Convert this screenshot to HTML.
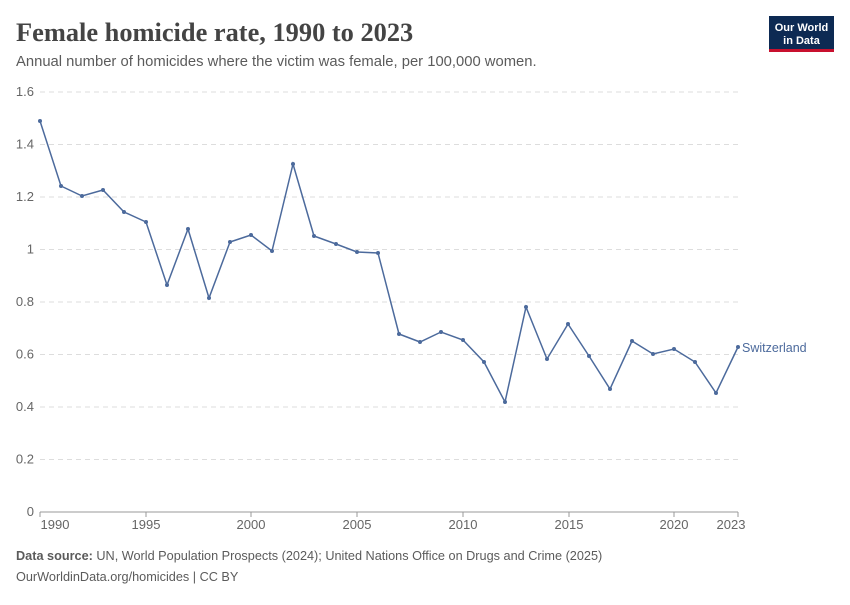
<!DOCTYPE html>
<html><head><meta charset="utf-8"><style>
body{margin:0;background:#fff;width:850px;height:600px;overflow:hidden;font-family:"Liberation Sans",sans-serif}
</style></head><body>
<svg width="850" height="600" xmlns="http://www.w3.org/2000/svg" font-family="Liberation Sans, sans-serif">
<text x="16" y="41" font-family="Liberation Serif, serif" font-size="26.4" font-weight="bold" fill="#444">Female homicide rate, 1990 to 2023</text>
<text x="16" y="66" font-size="14.8" fill="#5b5b5b">Annual number of homicides where the victim was female, per 100,000 women.</text>
<rect x="769" y="16" width="65" height="36" fill="#0d2a53"/>
<rect x="769" y="49" width="65" height="3" fill="#c8102e"/>
<text x="801.5" y="31" font-size="11" font-weight="bold" fill="#fff" text-anchor="middle">Our World</text>
<text x="801.5" y="44" font-size="11" font-weight="bold" fill="#fff" text-anchor="middle">in Data</text>
<g stroke="#ddd" stroke-dasharray="5,4">
<line x1="40" x2="738" y1="92" y2="92"/><line x1="40" x2="738" y1="144.5" y2="144.5"/>
<line x1="40" x2="738" y1="197" y2="197"/><line x1="40" x2="738" y1="249.5" y2="249.5"/>
<line x1="40" x2="738" y1="302" y2="302"/><line x1="40" x2="738" y1="354.5" y2="354.5"/>
<line x1="40" x2="738" y1="407" y2="407"/><line x1="40" x2="738" y1="459.5" y2="459.5"/>
</g>
<line x1="40" x2="738" y1="512" y2="512" stroke="#999"/>
<g font-size="13" fill="#666" text-anchor="end">
<text x="34" y="96">1.6</text><text x="34" y="148.5">1.4</text><text x="34" y="201">1.2</text>
<text x="34" y="253.5">1</text><text x="34" y="306">0.8</text><text x="34" y="358.5">0.6</text>
<text x="34" y="411">0.4</text><text x="34" y="463.5">0.2</text><text x="34" y="516">0</text>
</g>
<g font-size="13" fill="#666" text-anchor="middle">
<text x="55" y="529">1990</text><text x="146" y="529">1995</text><text x="251" y="529">2000</text>
<text x="357" y="529">2005</text><text x="463" y="529">2010</text><text x="569" y="529">2015</text>
<text x="674" y="529">2020</text><text x="731" y="529">2023</text>
</g>
<g stroke="#999"><line x1="40" x2="40" y1="512" y2="517"/><line x1="146" x2="146" y1="512" y2="517"/><line x1="251" x2="251" y1="512" y2="517"/><line x1="357" x2="357" y1="512" y2="517"/><line x1="463" x2="463" y1="512" y2="517"/><line x1="569" x2="569" y1="512" y2="517"/><line x1="674" x2="674" y1="512" y2="517"/><line x1="738" x2="738" y1="512" y2="517"/></g>
<polyline fill="none" stroke="#4c6a9c" stroke-width="1.5" points="40,121 61,186 82,196 103,190 124,212 146,222 167,285 188,229 209,298 230,242 251,235 272,251 293,164 314,236 336,244 357,252 378,253 399,334 420,342 441,332 463,340 484,362 505,402 526,307 547,359 568,324 589,356 610,389 632,341 653,354 674,349 695,362 716,393 738,347"/>
<g fill="#4c6a9c">
<circle cx="40" cy="121" r="2"/><circle cx="61" cy="186" r="2"/><circle cx="82" cy="196" r="2"/><circle cx="103" cy="190" r="2"/><circle cx="124" cy="212" r="2"/><circle cx="146" cy="222" r="2"/><circle cx="167" cy="285" r="2"/><circle cx="188" cy="229" r="2"/><circle cx="209" cy="298" r="2"/><circle cx="230" cy="242" r="2"/><circle cx="251" cy="235" r="2"/><circle cx="272" cy="251" r="2"/><circle cx="293" cy="164" r="2"/><circle cx="314" cy="236" r="2"/><circle cx="336" cy="244" r="2"/><circle cx="357" cy="252" r="2"/><circle cx="378" cy="253" r="2"/><circle cx="399" cy="334" r="2"/><circle cx="420" cy="342" r="2"/><circle cx="441" cy="332" r="2"/><circle cx="463" cy="340" r="2"/><circle cx="484" cy="362" r="2"/><circle cx="505" cy="402" r="2"/><circle cx="526" cy="307" r="2"/><circle cx="547" cy="359" r="2"/><circle cx="568" cy="324" r="2"/><circle cx="589" cy="356" r="2"/><circle cx="610" cy="389" r="2"/><circle cx="632" cy="341" r="2"/><circle cx="653" cy="354" r="2"/><circle cx="674" cy="349" r="2"/><circle cx="695" cy="362" r="2"/><circle cx="716" cy="393" r="2"/><circle cx="738" cy="347" r="2"/>
</g>
<text x="742" y="352" font-size="12.5" fill="#4c6a9c">Switzerland</text>
<text x="16" y="560" font-size="12.7" fill="#5b5b5b"><tspan font-weight="bold">Data source:</tspan> UN, World Population Prospects (2024); United Nations Office on Drugs and Crime (2025)</text>
<text x="16" y="581" font-size="12.7" fill="#5b5b5b">OurWorldinData.org/homicides | CC BY</text>
</svg>
</body></html>
